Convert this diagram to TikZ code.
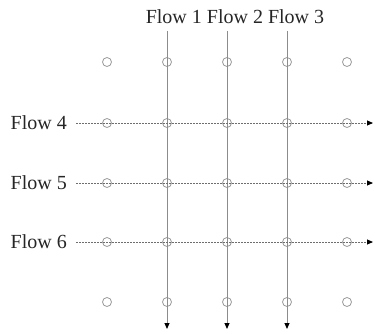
\documentclass[tikz,border=0pt]{standalone}
\usepackage{fontspec}
\setmainfont{Liberation Serif}
\usetikzlibrary{arrows.meta}
\definecolor{circgray}{HTML}{9A9A9A}
\definecolor{vgray}{HTML}{8C8C8C}
\definecolor{hgray}{HTML}{6E6E6E}
\tikzset{
  dotnode/.style={circle,draw=circgray,line width=0.8pt,minimum size=9pt,inner sep=0pt},
  vflow/.style={draw=vgray,line width=0.9pt,-{Triangle[length=6pt,width=5pt,color=black]}},
  hflow/.style={draw=hgray,line width=0.9pt,dash pattern=on 2pt off 1pt,-{Triangle[length=6pt,width=5pt,color=black]}},
  flowlabel/.style={font=\fontsize{20}{22}\selectfont,text=black!85,inner sep=0pt}
}
\begin{document}
\begin{tikzpicture}[x=1pt,y=-1pt]
\useasboundingbox (0,0) rectangle (376,335);
% grid of circles
\foreach \i/\y in {1/62,2/123,3/183,4/242,5/302}{
  \foreach \j/\x in {1/107,2/167,3/227,4/287,5/347}{
    \node[dotnode] (c\i\j) at (\x,\y) {};
  }
}
% top label
\node[flowlabel] (top) at (235,17) {Flow 1 Flow 2 Flow 3};
% vertical flows
\foreach \j/\x in {2/167,3/227,4/287}{
  \coordinate (vs\j) at (\x,31);
  \coordinate (ve\j) at (\x,329);
  \draw[vflow] (vs\j) -- (ve\j);
}
% horizontal flows
\foreach \n/\y in {4/123,5/183,6/242}{
  \node[flowlabel,anchor=east] (l\n) at (67,\y) {Flow \n};
  \coordinate (hs\n) at (76,\y);
  \coordinate (he\n) at (373,\y);
  \draw[hflow] (hs\n) -- (he\n);
}
\end{tikzpicture}
\end{document}
